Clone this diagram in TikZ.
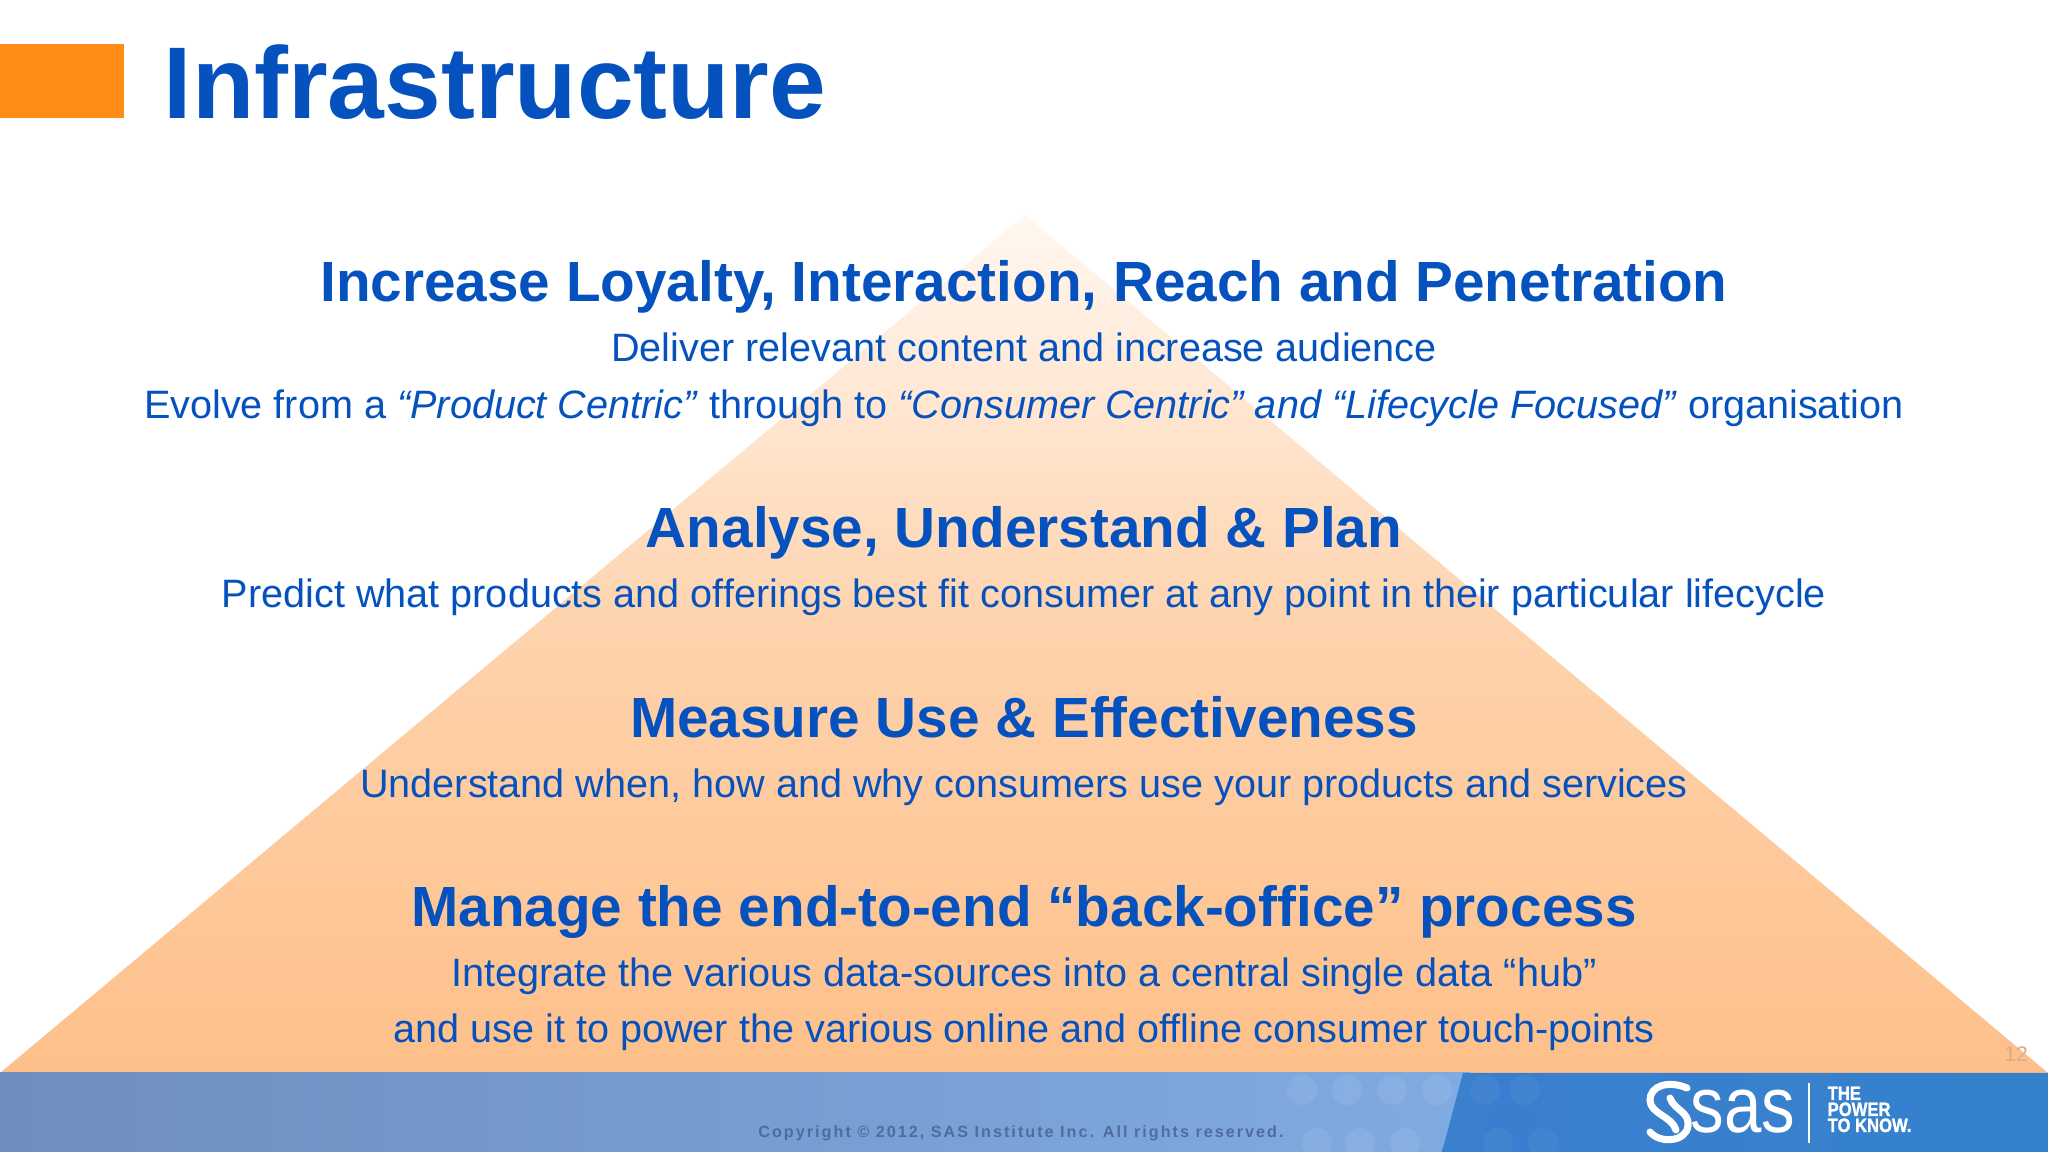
\documentclass[tikz,border=0pt]{standalone}
\usepackage{fontspec}
\setmainfont{Liberation Sans}
\definecolor{sasblue}{HTML}{0552BE}
\definecolor{boxorange}{HTML}{FF8C14}
\definecolor{pyrbase}{HTML}{FEC08A}
\definecolor{footleft}{HTML}{6E8EBE}
\definecolor{footcentre}{HTML}{7795CE}
\definecolor{footmid}{HTML}{7FABE2}
\definecolor{footdark}{HTML}{3B7FCF}
\definecolor{footright}{HTML}{3482CC}
\definecolor{copygray}{HTML}{4E6CA2}
\newcommand{\tagword}[1]{\scalebox{0.86}[1]{#1}}
\tikzset{
	titletext/.style={anchor=base west,inner sep=0pt,text=sasblue,font=\fontsize{29}{34}\selectfont\bfseries},
	headtext/.style={anchor=base,inner sep=0pt,text=sasblue,font=\fontsize{16.13}{20}\selectfont\bfseries},
	bodytext/.style={anchor=base,inner sep=0pt,text=sasblue,font=\fontsize{11.27}{14}\selectfont},
	tagtext/.style={anchor=base west,inner sep=0pt,text=white,font=\fontsize{5.5}{6}\selectfont\bfseries\addfontfeature{FakeBold=1.5}},
	footdot/.style={fill=white,opacity=0.08}
}

\begin{document}
\begin{tikzpicture}

	\useasboundingbox (0,0) rectangle (20.48,11.52);
	\fill[white] (0,0) rectangle (20.48,11.52);

	\coordinate (apex) at (10.25,9.37);
	\coordinate (baseleft) at (0,0.79);
	\coordinate (baseright) at (20.48,0.79);
	\shade[top color=pyrbase!12,bottom color=pyrbase,middle color=pyrbase!72] (apex) -- (baseright) -- (baseleft) -- cycle;

	\fill[boxorange] (0,10.34) rectangle (1.24,11.08);
	\draw (1.63,10.33) node[titletext] (title) {Infrastructure};

	\draw (10.24,8.5) node[headtext] (loyalty) {Increase Loyalty, Interaction, Reach and Penetration};
	\draw (10.24,7.9) node[bodytext] (deliver) {Deliver relevant content and increase audience};
	\draw (10.24,7.335) node[bodytext] (evolve) {Evolve from a \textit{“Product Centric”} through to \textit{“Consumer Centric” and “Lifecycle Focused”} organisation};

	\draw (10.24,6.04) node[headtext] (analyse) {Analyse, Understand \& Plan};
	\draw (10.24,5.44) node[bodytext] (predict) {Predict what products and offerings best fit consumer at any point in their particular lifecycle};

	\draw (10.24,4.14) node[headtext] (measure) {Measure Use \& Effectiveness};
	\draw (10.24,3.54) node[bodytext] (understand) {Understand when, how and why consumers use your products and services};

	\draw (10.24,2.25) node[headtext] (manage) {Manage the end-to-end “back-office” process};
	\draw (10.24,1.65) node[bodytext] (integrate) {Integrate the various data-sources into a central single data “hub”};
	\draw (10.24,1.09) node[bodytext] (power) {and use it to power the various online and offline consumer touch-points};

	\draw (20.16,0.9) node[anchor=base,inner sep=0pt,text=pyrbase!70!gray,font=\fontsize{6}{7}\selectfont] (pagenum) {12};

	\shade[left color=footleft,middle color=footcentre,right color=footmid] (0,0) rectangle (14.7,0.79);
	\shade[left color=footdark,right color=footright] (14.42,0) -- (20.48,0) -- (20.48,0.79) -- (14.63,0.79) -- cycle;

	\foreach \x in {13.02,13.47,13.92,14.37}
		\fill[footdot] (\x,0.62) circle (0.15);
	\foreach \x in {13.17,13.6,14.05}
		\fill[footdot] (\x,0.09) circle (0.15);
	\foreach \x in {14.85,15.25}
		\fill[footdot,opacity=0.04] (\x,0.62) circle (0.15);
	\foreach \x in {14.98,15.43}
		\fill[footdot,opacity=0.04] (\x,0.09) circle (0.15);

	\draw (10.21,0.14) node[anchor=base,inner sep=0pt,text=copygray,font=\fontsize{4.6}{5}\selectfont\bfseries\addfontfeature{LetterSpace=12.5}] (copyright) {Copyright © 2012, SAS Institute Inc. All rights reserved.};

	\draw[white,line width=2pt,line cap=round] (16.87,0.64) .. controls (16.68,0.72) and (16.5,0.66) .. (16.5,0.52) .. controls (16.5,0.38) and (16.72,0.36) .. (16.76,0.22);
	\draw[white,line width=2pt,line cap=round] (16.7,0.54) .. controls (16.74,0.42) and (16.9,0.4) .. (16.88,0.26) .. controls (16.86,0.1) and (16.6,0.08) .. (16.5,0.2);
	\draw (17.43,0.19) node[anchor=base,inner sep=0pt,text=white,font=\fontsize{22.5}{24}\selectfont] (saslogo) {\scalebox{0.85}[1]{sas}};
	\draw[white,line width=0.3pt] (18.09,0.09) -- (18.09,0.69);

	\draw (18.27,0.52) node[tagtext] (tagthe) {\tagword{THE}};
	\draw (18.27,0.36) node[tagtext] (tagpower) {\tagword{POWER}};
	\draw (18.27,0.2) node[tagtext] (tagknow) {\tagword{TO KNOW.}};

\end{tikzpicture}
\end{document}
